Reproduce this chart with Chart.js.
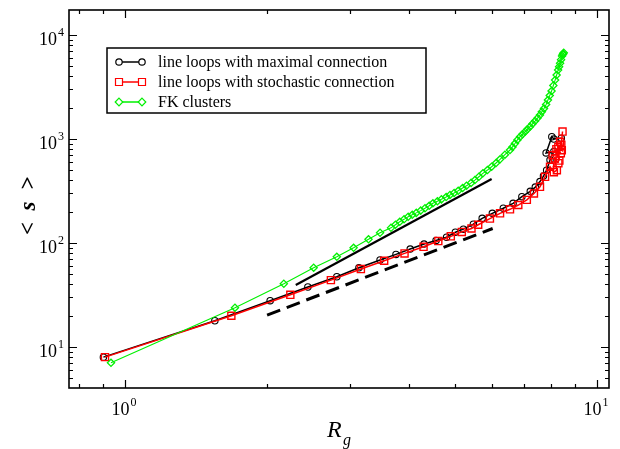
<!DOCTYPE html>
<html lang="en">
<head>
<meta charset="UTF-8">
<title>Mean cluster size vs radius of gyration</title>
<script src="https://cdn.jsdelivr.net/npm/chart.js@4"></script>
<style>
body { margin: 0; background: #fff; }
</style>
</head>
<body>
<canvas id="sizeChart" width="620" height="449"></canvas>
<script>
// line loops, maximal connection
var rgMax = [0.90, 1.55, 2.03, 2.44, 2.81, 3.13, 3.47, 3.75, 4.02, 4.30, 4.56, 4.80, 5.01, 5.21, 5.47, 5.71, 6.00, 6.33, 6.64, 6.93, 7.22, 7.40, 7.57, 7.70, 7.82, 7.95, 8.10, 7.80, 8.02, 8.10, 8.40];
var sMax  = [8.0, 17.9, 27.9, 37.8, 47.4, 57.9, 68.7, 77.8, 87.5, 97.8, 106, 114, 127, 136, 152, 173, 193, 216, 241, 279, 314, 345, 390, 440, 502, 630, 760, 735, 1052, 1000, 1020];

// line loops, stochastic connection
var rgSto = [0.907, 1.68, 2.24, 2.73, 3.16, 3.54, 3.91, 4.29, 4.61, 4.90, 5.17, 5.42, 5.60, 5.93, 6.23, 6.54, 6.81, 7.10, 7.35, 7.57, 7.76, 7.95, 8.10, 8.22, 8.14, 8.28, 8.05, 8.38, 8.20, 8.32, 8.28, 8.42, 8.35, 8.40, 8.45];
var sSto  = [8.0, 20, 31.8, 44, 56.2, 67.6, 79.5, 92, 104.5, 116, 128, 138, 150, 172, 193, 211, 232, 260, 300, 347, 433, 541, 480, 502, 651, 586, 700, 730, 800, 620, 843, 780, 942, 880, 1180];

// FK clusters
var rgFK = [0.934, 1.71, 2.17, 2.51, 2.81, 3.05, 3.28, 3.47, 3.66, 3.74, 3.82, 3.90, 3.98, 4.06, 4.14, 4.23, 4.32, 4.41, 4.49, 4.59, 4.68, 4.79, 4.88, 4.98, 5.08, 5.19, 5.29, 5.41, 5.51, 5.62, 5.73, 5.86, 5.98, 6.11, 6.23, 6.38, 6.54, 6.62, 6.70, 6.78, 6.87, 6.95, 7.04, 7.12, 7.21, 7.30, 7.39, 7.48, 7.57, 7.64, 7.72, 7.80, 7.87, 7.94, 8.01, 8.08, 8.15, 8.21, 8.27, 8.31, 8.35, 8.39, 8.43, 8.46, 8.50, 8.48];
var sFK  = [7.06, 23.9, 40.6, 57.9, 73.8, 90, 108.7, 125.6, 140, 150, 160, 169, 179, 187, 195, 205, 216, 228, 241, 252, 263, 277, 290, 303, 318, 338, 356, 379, 403, 434, 468, 503, 542, 588, 638, 707, 784, 840, 905, 980, 1052, 1110, 1175, 1240, 1313, 1400, 1489, 1590, 1702, 1830, 1964, 2150, 2372, 2620, 2895, 3270, 3690, 4120, 4603, 4950, 5345, 5800, 6280, 6500, 6760, 6600];

// guide lines (power laws)
var rgFitSolid = [2.30, 5.98];
var sFitSolid  = [39.5, 412];
var rgFitDash  = [2.00, 6.01];
var sFitDash   = [20.3, 138];

var xTicks = [1, 10];
var yTicks = [10, 100, 1000, 10000];

function pts(xs, ys) {
  var out = [];
  for (var i = 0; i < xs.length; i++) out.push({ x: xs[i], y: ys[i] });
  return out;
}

var serif = '"Liberation Serif", "DejaVu Serif", serif';
var green = '#00f000';

function drawMarker(ctx, kind, x, y, color) {
  ctx.save();
  ctx.strokeStyle = color;
  ctx.fillStyle = '#fff';
  ctx.lineWidth = 1.2;
  ctx.beginPath();
  if (kind === 'circle') {
    ctx.arc(x, y, 3.2, 0, Math.PI * 2);
  } else if (kind === 'rect') {
    ctx.rect(x - 3.5, y - 3.5, 7, 7);
  } else {
    ctx.moveTo(x, y - 3.8); ctx.lineTo(x + 3.8, y); ctx.lineTo(x, y + 3.8); ctx.lineTo(x - 3.8, y); ctx.closePath();
  }
  ctx.fill();
  ctx.stroke();
  ctx.restore();
}

// power-of-ten label: "10" with raised exponent
function powLabel(ctx, exp, x, y, align) {
  ctx.font = '18px ' + serif;
  var base = ctx.measureText('10').width;
  ctx.font = '12px ' + serif;
  var sup = ctx.measureText(String(exp)).width;
  var total = base + sup + 1;
  var left = align === 'right' ? x - total : x - total / 2;
  ctx.textAlign = 'left';
  ctx.textBaseline = 'alphabetic';
  ctx.font = '18px ' + serif;
  ctx.fillText('10', left, y);
  ctx.font = '12px ' + serif;
  ctx.fillText(String(exp), left + base + 1, y - 9);
}

var framePlugin = {
  id: 'frame',
  afterDraw: function(chart) {
    var ctx = chart.ctx, a = chart.chartArea;
    var xs = chart.scales.x, ys = chart.scales.y;
    ctx.save();
    ctx.fillStyle = '#000';
    ctx.strokeStyle = '#000';

    // frame
    ctx.lineWidth = 1.6;
    ctx.strokeRect(a.left, a.top, a.right - a.left, a.bottom - a.top);

    // ticks on all four sides, pointing inward
    ctx.lineWidth = 1.2;
    ctx.beginPath();
    [0.1, 1, 10].forEach(function(d) {
      for (var m = 1; m <= 9; m++) {
        var v = m * d;
        if (v < xs.min || v > xs.max) continue;
        var px = Math.round(xs.getPixelForValue(v)) + 0.5;
        var len = m === 1 ? 8 : 4;
        ctx.moveTo(px, a.bottom); ctx.lineTo(px, a.bottom - len);
        ctx.moveTo(px, a.top); ctx.lineTo(px, a.top + len);
      }
    });
    [1, 10, 100, 1000, 10000].forEach(function(d) {
      for (var m = 1; m <= 9; m++) {
        var v = m * d;
        if (v < ys.min || v > ys.max) continue;
        var py = Math.round(ys.getPixelForValue(v)) + 0.5;
        var len = m === 1 ? 8 : 4;
        ctx.moveTo(a.left, py); ctx.lineTo(a.left + len, py);
        ctx.moveTo(a.right, py); ctx.lineTo(a.right - len, py);
      }
    });
    ctx.stroke();

    // tick labels
    xTicks.forEach(function(v) {
      powLabel(ctx, Math.round(Math.log10(v)), xs.getPixelForValue(v) - 1, 415, 'center');
    });
    yTicks.forEach(function(v) {
      powLabel(ctx, Math.round(Math.log10(v)), a.left - 5, ys.getPixelForValue(v) + 10, 'right');
    });

    // axis titles
    ctx.textAlign = 'left';
    ctx.font = 'italic 24px ' + serif;
    ctx.fillText('R', 327, 437);
    ctx.font = 'italic 16px ' + serif;
    ctx.fillText('g', 343, 445);

    ctx.save();
    ctx.translate(35, 206);
    ctx.rotate(-Math.PI / 2);
    ctx.textAlign = 'center';
    ctx.font = 'bold italic 23px ' + serif;
    ctx.fillText('<  s  >', 0, 0);
    ctx.restore();

    // legend box
    var lx = 107, ly = 48, lw = 319, lh = 65;
    ctx.fillStyle = '#fff';
    ctx.fillRect(lx, ly, lw, lh);
    ctx.lineWidth = 1.5;
    ctx.strokeRect(lx, ly, lw, lh);
    var rows = [
      ['line loops with maximal connection', '#000000', 'circle'],
      ['line loops with stochastic connection', '#ff0000', 'rect'],
      ['FK clusters', green, 'diamond']
    ];
    ctx.font = '16px ' + serif;
    ctx.textBaseline = 'middle';
    rows.forEach(function(r, i) {
      var yy = 62 + i * 20;
      ctx.strokeStyle = r[1];
      ctx.lineWidth = 1.5;
      ctx.beginPath();
      ctx.moveTo(119, yy); ctx.lineTo(142, yy);
      ctx.stroke();
      drawMarker(ctx, r[2], 119, yy, r[1]);
      drawMarker(ctx, r[2], 142, yy, r[1]);
      ctx.fillStyle = '#000';
      ctx.textAlign = 'left';
      ctx.fillText(r[0], 158, yy + 1);
    });
    ctx.restore();
  }
};

new Chart(document.getElementById('sizeChart'), {
  type: 'line',
  data: {
    datasets: [
      {
        label: 'line loops with maximal connection',
        data: pts(rgMax, sMax),
        borderColor: '#000', borderWidth: 1.5,
        pointStyle: 'circle', pointRadius: 3.2,
        pointBorderColor: '#000', pointBackgroundColor: 'rgba(255,255,255,0)', pointBorderWidth: 1.1,
        order: 3
      },
      {
        label: 'line loops with stochastic connection',
        data: pts(rgSto, sSto),
        borderColor: '#ff0000', borderWidth: 1.5,
        pointStyle: 'rect', pointRadius: 5,
        pointBorderColor: '#ff0000', pointBackgroundColor: 'rgba(255,255,255,0)', pointBorderWidth: 1.4,
        order: 2
      },
      {
        label: 'FK clusters',
        data: pts(rgFK, sFK),
        borderColor: green, borderWidth: 1.1,
        pointStyle: 'rectRot', pointRadius: 3.6,
        pointBorderColor: green, pointBackgroundColor: 'rgba(255,255,255,0)', pointBorderWidth: 1.3,
        order: 1
      },
      {
        label: 'fit solid',
        data: pts(rgFitSolid, sFitSolid),
        borderColor: '#000', borderWidth: 2.2, pointRadius: 0,
        order: 4
      },
      {
        label: 'fit dashed',
        data: pts(rgFitDash, sFitDash),
        borderColor: '#000', borderWidth: 3, borderDash: [14, 7], pointRadius: 0,
        order: 4
      }
    ]
  },
  options: {
    responsive: false,
    animation: false,
    layout: { padding: { left: 69, right: 11, top: 10, bottom: 61 } },
    elements: { line: { tension: 0 } },
    plugins: { legend: { display: false }, tooltip: { enabled: false } },
    scales: {
      x: { type: 'logarithmic', min: 0.761, max: 10.6, display: false },
      y: { type: 'logarithmic', min: 4.04, max: 17400, display: false }
    }
  },
  plugins: [framePlugin]
});
</script>
</body>
</html>
